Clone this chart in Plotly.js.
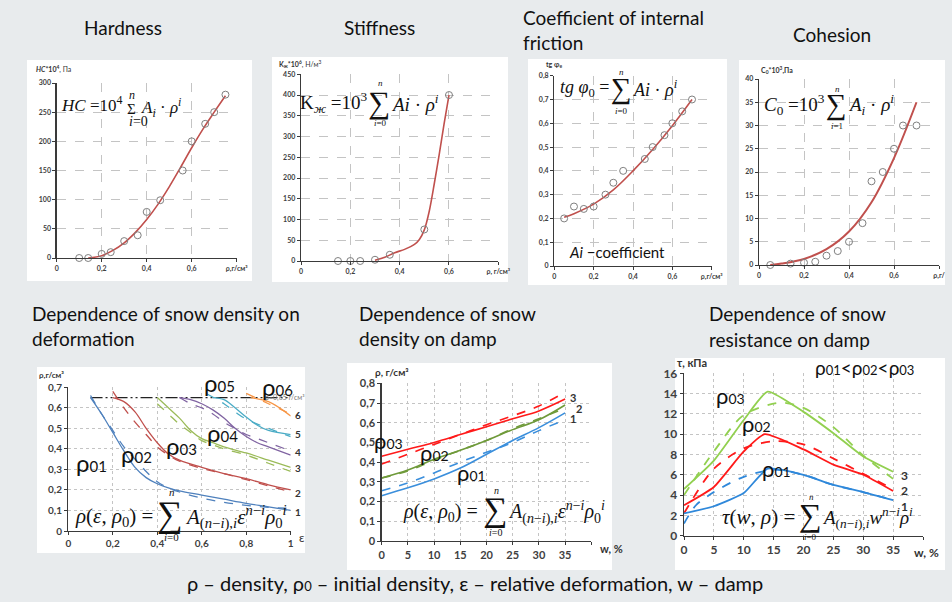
<!DOCTYPE html>
<html><head><meta charset="utf-8">
<script src="https://cdn.plot.ly/plotly-3.0.1.min.js"></script>
<style>html,body{margin:0;padding:0;background:#e7eaec;}#chart{width:952px;height:602px;}</style>
</head><body><div id="chart"></div>
<script>
// ---------------- DATA ----------------
// Hardness
const hardPtX = [0.1,0.14,0.2,0.24,0.3,0.36,0.4,0.46,0.56,0.6,0.66,0.7,0.75];
const hardPtY = [0,0,7,10,29,39,79,99,150,200,230,250,280];
const hardFitX = [0.14,0.2,0.25,0.3,0.35,0.4,0.45,0.5,0.55,0.6,0.65,0.7,0.75];
const hardFitY = [0,4,13,26,44,66,92,122,155,189,221,250,278];
// Stiffness
const stifPtX = [0.15,0.2,0.24,0.3,0.36,0.5,0.6];
const stifPtY = [0,0,0,3,15,76,400];
const stifFitX = [0.3,0.34,0.38,0.42,0.46,0.48,0.5,0.52,0.54,0.56,0.58,0.6];
const stifFitY = [2,9,20,28,40,52,75,120,185,255,330,400];
// Coefficient of internal friction
const coefPtX = [0.05,0.1,0.15,0.2,0.26,0.3,0.35,0.46,0.5,0.56,0.6,0.65,0.7];
const coefPtY = [0.2,0.25,0.24,0.25,0.3,0.35,0.4,0.45,0.5,0.55,0.6,0.65,0.7];
const coefFitX = [0.05,0.1,0.2,0.3,0.4,0.5,0.6,0.7];
const coefFitY = [0.205,0.22,0.26,0.32,0.40,0.49,0.59,0.70];
// Cohesion
const cohPtX = [0.05,0.14,0.2,0.25,0.3,0.35,0.4,0.46,0.5,0.55,0.6,0.64,0.7];
const cohPtY = [0,0.3,0.5,0.7,2,3,5,9,18,20,25,30,30];
const cohFitX = [0.05,0.1,0.2,0.3,0.4,0.5,0.6,0.7];
const cohFitY = [0,0.3,1.3,3.4,7.2,13.5,23,35];
// Density vs deformation (solid / dashed)
const def1X = [0.1,0.15,0.2,0.25,0.3,0.35,0.4,0.45,0.5,0.6,0.7,0.8,0.9,1.0];
const def1Y = [0.65,0.57,0.48,0.39,0.31,0.26,0.23,0.21,0.195,0.175,0.155,0.135,0.118,0.10];
const def1dY = [0.66,0.57,0.49,0.41,0.35,0.29,0.24,0.21,0.19,0.16,0.14,0.125,0.115,0.11];
const def2X = [0.2,0.25,0.3,0.35,0.4,0.45,0.5,0.6,0.7,0.8,0.9,1.0];
const def2Y = [0.65,0.63,0.58,0.5,0.43,0.375,0.345,0.31,0.28,0.255,0.225,0.2];
const def2dY = [0.68,0.6,0.53,0.47,0.41,0.37,0.34,0.305,0.28,0.25,0.22,0.19];
const def3X = [0.4,0.45,0.5,0.55,0.6,0.65,0.7,0.8,0.9,1.0];
const def3Y = [0.65,0.6,0.55,0.49,0.45,0.43,0.41,0.38,0.345,0.31];
const def3dY = [0.62,0.57,0.52,0.48,0.44,0.42,0.4,0.37,0.33,0.29];
const def4X = [0.5,0.55,0.6,0.65,0.7,0.75,0.8,0.85,0.9,1.0];
const def4Y = [0.65,0.64,0.62,0.59,0.55,0.5,0.46,0.43,0.41,0.37];
const def4dY = [0.65,0.62,0.6,0.57,0.53,0.5,0.47,0.45,0.43,0.39];
const def5X = [0.65,0.7,0.75,0.8,0.85,0.9,1.0];
const def5Y = [0.65,0.64,0.6,0.555,0.515,0.49,0.47];
const def5dX = [0.62,0.7,0.75,0.8,0.9,1.0];
const def5dY = [0.67,0.62,0.58,0.545,0.5,0.46];
const def6X = [0.82,0.9,0.95,1.0];
const def6Y = [0.65,0.63,0.6,0.56];
const def6dX = [0.8,0.9,1.0];
const def6dY = [0.67,0.62,0.57];
const limitX = [0.1,1.0];
const limitY = [0.65,0.65];
// Density vs damp
const dampX = [0,5,10,15,20,25,30,35];
const damp3 = [0.43,0.465,0.5,0.54,0.58,0.62,0.66,0.72];
const damp3d = [0.39,0.44,0.49,0.54,0.59,0.635,0.685,0.755];
const damp2 = [0.32,0.36,0.415,0.46,0.51,0.565,0.615,0.69];
const damp2d = [0.32,0.355,0.41,0.46,0.51,0.57,0.62,0.675];
const damp1 = [0.23,0.27,0.315,0.37,0.44,0.51,0.575,0.65];
const damp1d = [0.255,0.295,0.345,0.4,0.45,0.5,0.56,0.615];
// Resistance vs damp
const res3X = [0,5,10,14,20,25,30,35];
const res3 = [4.6,7.4,11.4,14.2,12.2,10.1,7.8,6.3];
const res3dX = [0,5,10,16,20,25,30,35];
const res3d = [4.0,8.3,11.9,13.1,12.6,10.7,7.9,5.6];
const res2X = [0,5,10,13.5,20,25,30,35];
const res2 = [3.0,4.8,8.3,10.0,8.5,7.0,6.0,4.4];
const res2dX = [0,5,10,15,20,25,30,35];
const res2d = [2.2,6.6,8.6,9.3,9.0,7.6,6.1,4.6];
const res1X = [0,5,10,14,20,25,30,35];
const res1 = [2.2,2.9,4.2,6.6,6.0,5.0,4.3,3.5];
const res1dX = [0,2,5,10,15,20,25,30,35];
const res1d = [1.2,3.0,4.3,5.8,6.5,6.0,5.0,4.3,3.5];
// Tick labels
const rhoTickVals = [0,0.2,0.4,0.6,0.8];
const rhoTickText1 = ['0','0,2','0,4','0,6','ρ,г/см³'];
const rhoTickText2 = ['0','0,2','0,4','0,6','ρ, г/см³'];
const rhoTickText4 = ['0','0,2','0,4','0,6','ρ,г/'];
const hardYVals = [0,50,100,150,200,250,300];
const stifYVals = [0,50,100,150,200,250,300,350,400,450];
const coefYVals = [0,0.1,0.2,0.3,0.4,0.5,0.6,0.7,0.8];
const coefYText = ['0','0,1','0,2','0,3','0,4','0,5','0,6','0,7','0,8'];
const cohYVals = [0,5,10,15,20,25,30,35,40];
const epsVals = [0,0.2,0.4,0.6,0.8,1];
const epsText = ['0','0,2','0,4','0,6','0,8','1'];
const defYVals = [0,0.1,0.2,0.3,0.4,0.5,0.6,0.7];
const defYText = ['0','0,1','0,2','0,3','0,4','0,5','0,6','0,7'];
const wVals = [0,5,10,15,20,25,30,35,40];
const wText = ['0','5','10','15','20','25','30','35',' '];
const resYVals = [0,2,4,6,8,10,12,14,16];

// ---------------- LAYOUT HELPERS ----------------
const W = 952, H = 602;
const layout = {width:W, height:H, margin:{l:0,r:0,t:0,b:0}, paper_bgcolor:'#e8ebed',
  plot_bgcolor:'rgba(0,0,0,0)', showlegend:false, shapes:[], annotations:[]};

function mkAxes(i, xl, xr, yt, yb, xr_, yr_, xtv, xtt, ytv, ytt, fs, dash){
  const s = i===1 ? '' : String(i);
  const common = {showline:true, linecolor:'#3a3a3a', linewidth:1.3, ticks:'outside', ticklen:3,
    tickcolor:'#3a3a3a', showgrid:true, gridcolor:'#c4c4c4', griddash:dash, gridwidth:1,
    zeroline:false, fixedrange:true, tickfont:{family:'Lato', size:fs, color:'#404040', weight:'bold'}};
  layout['xaxis'+s] = Object.assign({}, common, {domain:[xl/W, xr/W], range:xr_, anchor:'y'+s,
    tickmode:'array', tickvals:xtv, ticktext:xtt});
  layout['yaxis'+s] = Object.assign({}, common, {domain:[1-yb/H, 1-yt/H], range:yr_, anchor:'x'+s,
    tickmode:'array', tickvals:ytv, ticktext:ytt});
}
function panel(x0,y0,x1,y1){
  layout.shapes.push({type:'rect', xref:'paper', yref:'paper', x0:x0/W, x1:x1/W, y0:1-y1/H, y1:1-y0/H,
    fillcolor:'#ffffff', line:{width:0}, layer:'below'});
}
function A(x,y,text,size,o){
  o = o || {};
  layout.annotations.push({xref:'paper', yref:'paper', x:x/W, y:1-y/H, text:text, showarrow:false,
    xanchor:o.xa||'left', yanchor:o.ya||'middle', align:'left',
    font:{family:o.f||'Lato', size:size, color:o.c||'#111111', weight:o.w||'normal'}});
}

// panels
panel(27,60,252,281);
panel(272,57,508,282);
panel(528,59,727,285);
panel(739,60,945,285);
panel(37,367,305,553);
panel(347,363,612,570);
panel(675,358,945,570);

mkAxes(1, 56.7,236.7, 83,258, [0,0.8],[0,300], rhoTickVals, rhoTickText1, hardYVals, hardYVals.map(String), 7, 'dash');
mkAxes(2, 301,498.3, 74.3,261, [0,0.8],[0,450], rhoTickVals, rhoTickText2, stifYVals, stifYVals.map(String), 7, 'dash');
mkAxes(3, 554.3,711.7, 75.7,266, [0,0.8],[0,0.8], rhoTickVals, rhoTickText1, coefYVals, coefYText, 7, 'dash');
mkAxes(4, 759,939, 79,265, [0,0.8],[0,40], rhoTickVals, rhoTickText4, cohYVals, cohYVals.map(String), 7, 'dash');
mkAxes(5, 68.3,290.7, 387.3,531, [0,1],[0,0.7], epsVals, epsText, defYVals, defYText, 10, 'dot');
mkAxes(6, 381.7,591.3, 383.3,541, [0,40],[0,0.8], wVals, wText, coefYVals, coefYText, 11, 'dot');
mkAxes(7, 684,923, 373.3,535.7, [0,40],[0,16], wVals, wText, resYVals, resYVals.map(String), 12, 'dot');

// ---------------- TRACES ----------------
const traces = [];
const RED = '#c0504d';
function pts(x,y,ax){ traces.push({x:x,y:y,xaxis:'x'+ax,yaxis:'y'+ax,mode:'markers',cliponaxis:false,
  marker:{symbol:'circle-open',size:7,color:'#7f7f7f',line:{width:1,color:'#7f7f7f'}},hoverinfo:'skip'}); }
function ln(x,y,ax,color,dash,w,sm){ traces.push({x:x,y:y,xaxis:'x'+ax,yaxis:'y'+ax,mode:'lines',cliponaxis:false,
  line:{color:color,width:w||1.6,dash:dash||'solid',shape:'spline',smoothing:sm===undefined?1:sm},hoverinfo:'skip'}); }

ln(hardFitX,hardFitY,'',RED); pts(hardPtX,hardPtY,'');
ln(stifFitX,stifFitY,'2',RED,'solid',1.6,0.8); pts(stifPtX,stifPtY,'2');
ln(coefFitX,coefFitY,'3',RED); pts(coefPtX,coefPtY,'3');
ln(cohFitX,cohFitY,'4',RED,'solid',2); pts(cohPtX,cohPtY,'4');

const C5 = ['#4f81bd','#c0504d','#9bbb59','#8064a2','#4bacc6','#f79646'];
traces.push({x:limitX,y:limitY,xaxis:'x5',yaxis:'y5',mode:'lines',line:{color:'#222',width:1.2,dash:'12px,3px,2px,3px,2px,3px'},hoverinfo:'skip'});
ln(def1X,def1Y,'5',C5[0],'solid',1.3); ln(def1X,def1dY,'5',C5[0],'dash',1.3);
ln(def2X,def2Y,'5',C5[1],'solid',1.3); ln(def2X,def2dY,'5',C5[1],'dash',1.3);
ln(def3X,def3Y,'5',C5[2],'solid',1.3); ln(def3X,def3dY,'5',C5[2],'dash',1.3);
ln(def4X,def4Y,'5',C5[3],'solid',1.3); ln(def4X,def4dY,'5',C5[3],'dash',1.3);
ln(def5X,def5Y,'5',C5[4],'solid',1.3); ln(def5dX,def5dY,'5',C5[4],'dash',1.3);
ln(def6X,def6Y,'5',C5[5],'solid',1.3); ln(def6dX,def6dY,'5',C5[5],'dash',1.3);

const C6 = {r:'#ff1a1a', g:'#6f9a3a', b:'#3b8fdc'};
ln(dampX,damp3,'6',C6.r,'solid',1.6); ln(dampX,damp3d,'6',C6.r,'dash',1.6);
ln(dampX,damp2,'6',C6.g,'solid',1.6); ln(dampX,damp2d,'6',C6.g,'dash',1.6);
ln(dampX,damp1,'6',C6.b,'solid',1.6); ln(dampX,damp1d,'6',C6.b,'dash',1.6);

const C7 = {g:'#92d050', r:'#ff1a1a', b:'#2f88da'};
ln(res3X,res3,'7',C7.g,'solid',1.8,0.5); ln(res3dX,res3d,'7',C7.g,'dash',1.8,0.8);
ln(res2X,res2,'7',C7.r,'solid',1.8,0.5); ln(res2dX,res2d,'7',C7.r,'dash',1.8,0.8);
ln(res1X,res1,'7',C7.b,'solid',1.8,0.5); ln(res1dX,res1d,'7',C7.b,'dash',1.8,0.8);

// ---------------- TEXT ----------------
const SER = 'Liberation Serif';
// titles
A(82,28,'Hardness',19); A(342,28,'Stiffness',19);
A(521,17,'Coefficient of internal',19); A(521,42,'friction',19);
A(791,35,'Cohesion',19);
A(30,313,'Dependence of snow density on',19); A(30,338,'deformation',19);
A(357,313,'Dependence of snow',19); A(357,338,'density on damp',19);
A(707,313,'Dependence of snow',19); A(707,339,'resistance on damp',19);
A(475,583,'ρ – density, ρ<span style="font-size:13px">0</span> – initial density, ε – relative deformation, w – damp',20,{xa:'center'});

// axis captions
A(34,69,'<b><i>HC</i>*10<sup>4</sup></b>, Па',7,{c:'#333'});
A(277,64,'<b>K<sub>ж</sub>*10<sup>6</sup></b>, Н/м<sup>3</sup>',7,{c:'#333'});
A(544,65,'<b>tg φ<sub>e</sub></b>',7,{c:'#333'});
A(759,70,'<b>C<sub>0</sub>*10<sup>3</sup>,Па</b>',7,{c:'#333'});
A(37,375,'ρ,г/см³',8,{c:'#333',w:'bold'});
A(373,372,'ρ, г/см³',10,{c:'#333',w:'bold'});
A(675,362,'τ, кПа',11,{c:'#333',w:'bold'});
A(302,537,'ε',12,{c:'#333',xa:'center'});
A(598,548,'w, %',11,{c:'#333',w:'bold'});
A(912,552,'w, %',12,{c:'#333',w:'bold'});
A(263,397,'ρ=0,65 г/см³',7,{c:'#777'});

// formulas (left part right-anchored before the sum sign)
A(124,104,'<i>HC</i> =10<sup>4</sup>',17,{f:SER,xa:'right'});
A(131,109,'Σ',15,{f:SER,xa:'center'});
A(132,95,'<i>n</i>',12,{f:SER,xa:'center'});
A(138,121,'<i>i</i>=0',14,{f:SER,xa:'center'});
A(139,107,'<i>A<sub>i</sub></i> · <i>ρ<sup>i</sup></i>',17,{f:SER});

A(370,103,'K<sub><i>ж</i></sub> =10<sup>3</sup>',19,{f:SER,xa:'right'});
A(379,102,'∑',31,{f:SER,xa:'center'});
A(380,83,'<i>n</i>',9,{f:SER,xa:'center'});
A(380,123,'<i>i</i>=0',9,{f:SER,xa:'center'});
A(389,103,'<i>Ai</i> · <i>ρ<sup>i</sup></i>',19,{f:SER});

A(611,88,'<i>tg φ</i><sub>0</sub> =',18,{f:SER,xa:'right'});
A(621,88,'∑',29,{f:SER,xa:'center'});
A(621,72,'<i>n</i>',9,{f:SER,xa:'center'});
A(621,111,'<i>i</i>=0',9,{f:SER,xa:'center'});
A(631,88,'<i>Ai</i> · <i>ρ<sup>i</sup></i>',18,{f:SER});
A(567,252,'<i>Ai</i> −coefficient',15);

A(827,105,'<i>C</i><sub>0</sub> =10<sup>3</sup>',19,{f:SER,xa:'right'});
A(836,105,'∑',29,{f:SER,xa:'center'});
A(837,89,'<i>n</i>',9,{f:SER,xa:'center'});
A(837,126,'<i>i</i>=1',9,{f:SER,xa:'center'});
A(846,105,'<i>A<sub>i</sub></i> · <i>ρ<sup>i</sup></i>',19,{f:SER});

const rhsA = '<i>A</i><sub>(<i>n</i>−<i>i</i>),<i>i</i></sub><i>ε</i><sup><i>n</i>−<i>i</i></sup><i>ρ</i><sub>0</sub><sup><i>i</i></sup>';
A(155,517,'<i>ρ</i>(<i>ε</i>, <i>ρ</i><sub>0</sub>) =',21,{f:SER,xa:'right'});
A(170,514,'∑',36,{f:SER,xa:'center'});
A(172,492,'<i>n</i>',11,{f:SER,xa:'center'});
A(171,537,'<i>i</i>=0',11,{f:SER,xa:'center'});
A(183,517,rhsA,21,{f:SER});

A(480,512,'<i>ρ</i>(<i>ε</i>, <i>ρ</i><sub>0</sub>) =',20,{f:SER,xa:'right'});
A(495,510,'∑',34,{f:SER,xa:'center'});
A(496,490,'<i>n</i>',10,{f:SER,xa:'center'});
A(495,532,'<i>i</i>=0',10,{f:SER,xa:'center'});
A(506,512,rhsA,20,{f:SER});

A(797,517,'<i>τ</i>(<i>w</i>, <i>ρ</i>) =',21,{f:SER,xa:'right'});
A(810,515,'∑',32,{f:SER,xa:'center'});
A(811,497,'<i>n</i>',9,{f:SER,xa:'center'});
A(810,537,'<i>i</i>=0',9,{f:SER,xa:'center'});
A(820,517,'<i>A</i><sub>(<i>n</i>−<i>i</i>),<i>i</i></sub><i>w</i><sup><i>n</i>−<i>i</i></sup><i>ρ</i><sup><i>i</i></sup>',19,{f:SER});

// rho labels
function R(x,y,d,big,small){ A(x,y,'ρ<span style="font-size:'+small+'px">'+d+'</span>',big); }
R(74,462,'01',24,15); R(119,453,'02',24,15); R(164,445,'03',24,15);
R(205,432,'04',24,15); R(202,382,'05',24,15); R(260,386,'06',24,15);
R(372,440,'03',22,14); R(418,452,'02',22,14); R(455,472,'01',22,14);
R(714,395,'03',22,14); R(740,424,'02',22,14); R(760,468,'01',22,14);
A(813,367,'ρ<span style="font-size:13px">01</span><ρ<span style="font-size:13px">02</span><ρ<span style="font-size:13px">03</span>',19);

// curve numbers
[['6',415],['5',434],['4',452],['3',468],['2',493],['1',512]].forEach(function(p){A(298,p[1],p[0],10,{c:'#333',w:'bold',xa:'center'});});
A(573,397,'3',11,{c:'#333',w:'bold',xa:'center'}); A(579,408,'2',11,{c:'#333',w:'bold',xa:'center'}); A(573,419,'1',11,{c:'#333',w:'bold',xa:'center'});
A(904,475,'3',12,{c:'#333',w:'bold',xa:'center'}); A(904,490,'2',12,{c:'#333',w:'bold',xa:'center'}); A(904,506,'1',12,{c:'#333',w:'bold',xa:'center'});

Plotly.newPlot('chart', traces, layout, {staticPlot:true});
</script></body></html>
